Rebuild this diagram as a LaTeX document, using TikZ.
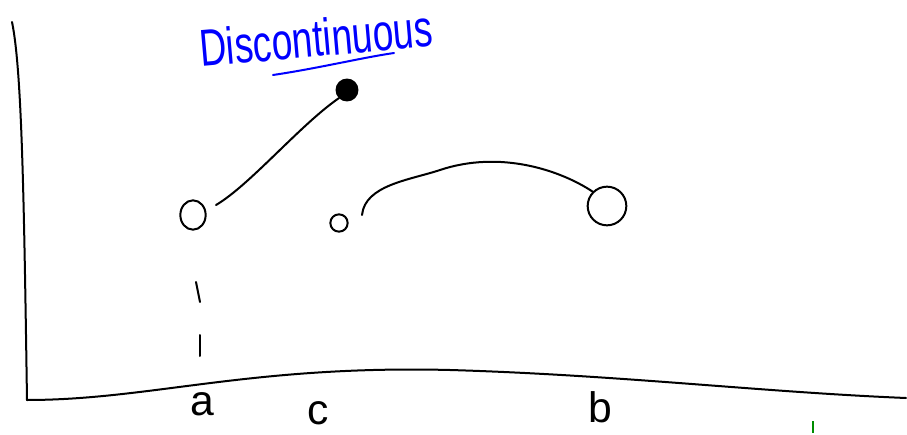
\documentclass[tikz,border=0pt]{standalone}
\usepackage{fontspec}
\setmainfont{Liberation Sans}
\usetikzlibrary{shapes.geometric}
\begin{document}
\begin{tikzpicture}[x=0.75pt,y=-0.75pt,
  ink/.style={line width=1.5pt,line cap=round,line join=round,black},
  lbl/.style={font=\fontsize{32}{32}\selectfont,inner sep=0pt}]
\useasboundingbox (0,0) rectangle (907,435);
% axes
\coordinate (ytop) at (12,22);
\coordinate (origin) at (27,400);
\coordinate (xend) at (906,398);
\draw[ink] (ytop) .. controls (22,70) and (24,200) .. (origin);
\draw[ink] (origin) .. controls (150,400) and (250,365) .. (450,370)
  .. controls (620,375) and (760,392) .. (xend);
% left open circle and line to filled dot
\node[ink,draw,ellipse,minimum width=19pt,minimum height=22pt,inner sep=0pt] (oa) at (193,215) {};
\coordinate (la) at (216,205);
\node[circle,fill=black,draw=black,line width=1.2pt,minimum size=16pt,inner sep=0pt] (dot) at (347,90) {};
\draw[ink] (la) .. controls (250,185) and (300,125) .. (dot.south west);
% middle small circle and arc
\node[ink,draw,circle,minimum size=13pt,inner sep=0pt] (oc) at (339,223) {};
\coordinate (lc) at (362,215);
\node[ink,draw,circle,minimum size=29pt,inner sep=0pt] (ob) at (607,206) {};
\draw[ink] (lc) .. controls (365,185) and (410,180) .. (440,170)
  .. controls (500,150) and (560,170) .. (ob.north west);
% dashes
\coordinate (d1a) at (196,282); \coordinate (d1b) at (200,302);
\coordinate (d2a) at (200,335); \coordinate (d2b) at (200,356);
\draw[ink] (d1a) -- (d1b);
\draw[ink] (d2a) -- (d2b);
% labels
\node[lbl] (a) at (202,404) {a};
\node[lbl] (c) at (318,413) {c};
\node[lbl] (b) at (600,407) {b};
% green tick
\coordinate (g1) at (813,421); \coordinate (g2) at (813,433);
\draw[line width=1.2pt,green!55!black] (g1) -- (g2);
% title
\node[blue,font=\fontsize{30}{30}\selectfont,rotate=5,xscale=0.93,yscale=1.3,inner sep=0pt] (title) at (316,38) {Discontinuous};
\coordinate (u1) at (273,75); \coordinate (u2) at (394,53);
\draw[line width=1.5pt,blue,line cap=round] (u1) .. controls (320,68) and (360,58) .. (u2);
\end{tikzpicture}
\end{document}
